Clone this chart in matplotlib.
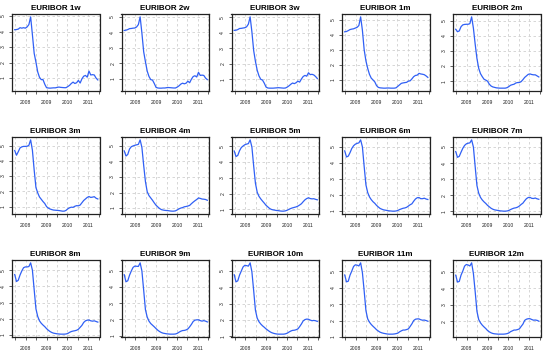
import numpy as np
import matplotlib
matplotlib.use("Agg")
import matplotlib.pyplot as plt

plt.rcParams['font.family'] = ['Liberation Sans', 'DejaVu Sans']

titles = ["EURIBOR 1w", "EURIBOR 2w", "EURIBOR 3w", "EURIBOR 1m", "EURIBOR 2m",
          "EURIBOR 3m", "EURIBOR 4m", "EURIBOR 5m", "EURIBOR 6m", "EURIBOR 7m",
          "EURIBOR 8m", "EURIBOR 9m", "EURIBOR 10m", "EURIBOR 11m", "EURIBOR 12m"]

year_ticks = [2008, 2009, 2010, 2011]
year_labels = ["2008", "2009", "2010", "2011"]
half_ticks = [2007.5, 2008.5, 2009.5, 2010.5, 2011.5]
y_ticks = [1, 2, 3, 4, 5]

t_start, t_end = 2007.48, 2011.45

e1w = [4.12, 4.13, 4.16, 4.25, 4.22, 4.25, 4.22, 4.30, 4.45, 4.95, 3.80, 2.60, 2.03, 1.40, 1.05, 0.90,
       0.90, 0.60, 0.38, 0.36, 0.35, 0.36, 0.37, 0.37, 0.40, 0.42, 0.40, 0.39, 0.38, 0.38, 0.45, 0.53,
       0.65, 0.74, 0.65, 0.70, 0.85, 0.68, 0.95, 1.12, 1.17, 1.06, 1.45, 1.20, 1.22, 1.20, 1.00, 0.88]
e2w = [4.12, 4.14, 4.18, 4.24, 4.25, 4.27, 4.28, 4.35, 4.50, 5.00, 3.95, 2.75, 2.10, 1.50, 1.15, 0.95,
       0.92, 0.70, 0.45, 0.41, 0.40, 0.40, 0.41, 0.41, 0.43, 0.44, 0.43, 0.42, 0.41, 0.41, 0.47, 0.55,
       0.66, 0.72, 0.68, 0.72, 0.85, 0.75, 0.98, 1.15, 1.20, 1.12, 1.42, 1.22, 1.24, 1.22, 1.05, 0.95]
e3w = [4.15, 4.16, 4.20, 4.27, 4.28, 4.30, 4.32, 4.38, 4.55, 5.02, 4.05, 2.85, 2.15, 1.58, 1.22, 1.00,
       0.95, 0.75, 0.50, 0.44, 0.43, 0.43, 0.43, 0.44, 0.45, 0.46, 0.45, 0.44, 0.43, 0.44, 0.50, 0.58,
       0.68, 0.76, 0.72, 0.78, 0.88, 0.82, 1.02, 1.18, 1.25, 1.20, 1.42, 1.30, 1.32, 1.28, 1.18, 1.05]
e1m = [4.20, 4.22, 4.28, 4.35, 4.38, 4.40, 4.45, 4.50, 4.62, 5.20, 4.30, 3.00, 2.25, 1.75, 1.35, 1.10,
       0.98, 0.85, 0.60, 0.48, 0.45, 0.44, 0.43, 0.43, 0.44, 0.44, 0.43, 0.43, 0.43, 0.45, 0.55, 0.65,
       0.75, 0.78, 0.80, 0.82, 0.90, 0.92, 1.05, 1.20, 1.28, 1.30, 1.42, 1.38, 1.36, 1.33, 1.25, 1.15]
e2m = [4.43, 4.27, 4.32, 4.60, 4.72, 4.75, 4.76, 4.76, 4.80, 5.25, 4.50, 3.45, 2.50, 1.85, 1.50, 1.30,
       1.13, 1.07, 1.00, 0.80, 0.68, 0.62, 0.59, 0.56, 0.55, 0.54, 0.54, 0.54, 0.54, 0.57, 0.64, 0.73,
       0.77, 0.80, 0.88, 0.91, 0.91, 0.97, 1.10, 1.25, 1.35, 1.45, 1.48, 1.44, 1.42, 1.42, 1.35, 1.28]
e3m = [4.68, 4.37, 4.60, 4.85, 4.92, 4.95, 4.95, 4.96, 5.02, 5.38, 4.70, 3.40, 2.25, 1.90, 1.63, 1.48,
       1.33, 1.20, 1.00, 0.90, 0.84, 0.80, 0.77, 0.76, 0.75, 0.74, 0.72, 0.70, 0.70, 0.75, 0.85, 0.92,
       0.96, 0.95, 1.02, 1.06, 1.05, 1.10, 1.25, 1.40, 1.50, 1.60, 1.66, 1.60, 1.62, 1.65, 1.55, 1.50]
e4m = [4.68, 4.35, 4.45, 4.80, 4.95, 5.00, 5.04, 5.07, 5.10, 5.39, 4.90, 3.75, 2.70, 2.05, 1.80, 1.65,
       1.50, 1.33, 1.18, 1.07, 0.97, 0.90, 0.87, 0.85, 0.84, 0.83, 0.81, 0.80, 0.80, 0.82, 0.88, 0.95,
       1.00, 1.03, 1.08, 1.10, 1.13, 1.17, 1.28, 1.38, 1.47, 1.55, 1.65, 1.62, 1.58, 1.57, 1.55, 1.50]
e5m = [4.70, 4.35, 4.42, 4.72, 4.92, 5.02, 5.10, 5.14, 5.17, 5.41, 4.95, 3.75, 2.65, 2.08, 1.82, 1.66,
       1.52, 1.39, 1.25, 1.15, 1.05, 0.99, 0.96, 0.94, 0.92, 0.91, 0.89, 0.88, 0.88, 0.90, 0.94, 1.00,
       1.05, 1.09, 1.12, 1.15, 1.20, 1.27, 1.35, 1.48, 1.60, 1.68, 1.73, 1.68, 1.66, 1.67, 1.63, 1.60]
e6m = [4.73, 4.35, 4.40, 4.62, 4.88, 5.05, 5.15, 5.20, 5.23, 5.42, 4.98, 3.75, 2.60, 2.12, 1.85, 1.68,
       1.55, 1.45, 1.32, 1.22, 1.13, 1.08, 1.04, 1.02, 1.00, 0.98, 0.97, 0.96, 0.96, 0.97, 1.00, 1.06,
       1.10, 1.14, 1.16, 1.20, 1.28, 1.36, 1.42, 1.58, 1.72, 1.80, 1.81, 1.74, 1.74, 1.77, 1.72, 1.69]
e7m = [4.72, 4.36, 4.42, 4.68, 4.92, 5.10, 5.20, 5.24, 5.26, 5.45, 5.00, 3.78, 2.60, 2.12, 1.86, 1.70,
       1.58, 1.48, 1.36, 1.27, 1.18, 1.12, 1.08, 1.06, 1.04, 1.02, 1.01, 1.00, 1.00, 1.01, 1.04, 1.10,
       1.15, 1.19, 1.21, 1.25, 1.32, 1.42, 1.50, 1.65, 1.78, 1.85, 1.86, 1.80, 1.79, 1.82, 1.77, 1.74]
e8m = [4.73, 4.30, 4.38, 4.70, 4.95, 5.15, 5.20, 5.20, 5.22, 5.45, 5.00, 3.80, 2.62, 2.15, 1.88, 1.73,
       1.62, 1.52, 1.40, 1.30, 1.22, 1.16, 1.12, 1.10, 1.08, 1.07, 1.06, 1.06, 1.06, 1.07, 1.10, 1.17,
       1.22, 1.25, 1.27, 1.30, 1.36, 1.48, 1.60, 1.78, 1.88, 1.92, 1.93, 1.88, 1.86, 1.88, 1.84, 1.80]
e9m = [4.75, 4.32, 4.38, 4.72, 4.98, 5.20, 5.28, 5.27, 5.26, 5.48, 4.98, 3.80, 2.60, 2.15, 1.90, 1.75,
       1.65, 1.55, 1.44, 1.34, 1.26, 1.20, 1.16, 1.14, 1.12, 1.11, 1.10, 1.10, 1.10, 1.11, 1.15, 1.22,
       1.28, 1.32, 1.33, 1.36, 1.42, 1.55, 1.70, 1.88, 1.96, 1.98, 1.98, 1.93, 1.90, 1.93, 1.90, 1.85]
e10m = [4.77, 4.34, 4.40, 4.75, 5.00, 5.25, 5.35, 5.33, 5.30, 5.50, 4.95, 3.80, 2.60, 2.12, 1.90, 1.76,
        1.65, 1.56, 1.46, 1.38, 1.30, 1.24, 1.20, 1.17, 1.15, 1.14, 1.14, 1.14, 1.14, 1.16, 1.20, 1.27,
        1.33, 1.37, 1.38, 1.41, 1.46, 1.60, 1.76, 1.95, 2.03, 2.06, 2.05, 2.00, 1.96, 1.98, 1.96, 1.92]
e11m = [4.78, 4.36, 4.40, 4.77, 5.02, 5.30, 5.40, 5.38, 5.33, 5.52, 4.92, 3.80, 2.60, 2.10, 1.90, 1.76,
        1.65, 1.55, 1.44, 1.36, 1.29, 1.25, 1.22, 1.20, 1.18, 1.17, 1.17, 1.17, 1.18, 1.20, 1.23, 1.31,
        1.37, 1.42, 1.42, 1.45, 1.49, 1.64, 1.80, 2.00, 2.08, 2.10, 2.10, 2.05, 2.02, 2.03, 2.00, 1.96]
e12m = [4.80, 4.38, 4.42, 4.80, 5.05, 5.35, 5.45, 5.42, 5.36, 5.55, 4.90, 3.80, 2.60, 2.10, 1.90, 1.76,
        1.65, 1.55, 1.43, 1.35, 1.29, 1.25, 1.23, 1.22, 1.21, 1.21, 1.21, 1.21, 1.22, 1.24, 1.28, 1.36,
        1.41, 1.46, 1.46, 1.49, 1.53, 1.68, 1.82, 2.05, 2.12, 2.15, 2.15, 2.10, 2.06, 2.07, 2.05, 2.00]

series = [e1w, e2w, e3w, e1m, e2m, e3m, e4m, e5m, e6m, e7m, e8m, e9m, e10m, e11m, e12m]

W, H = 545, 355
fig = plt.figure(figsize=(W / 100, H / 100), dpi=100)

col_left = [12, 121.5, 231.5, 342, 453]
col_w = 87.5
row_top = [14, 137, 260]
row_h = 77

line_color = '#3060f5'
grid_color = '#d0d0d0'

for i, (title, vals) in enumerate(zip(titles, series)):
    r, c = divmod(i, 5)
    left = col_left[c] / W
    bottom = 1 - (row_top[r] + row_h) / H
    ax = fig.add_axes([left, bottom, col_w / W, row_h / H])
    v = np.array(vals)
    t = np.linspace(t_start, t_end, len(v))
    ax.plot(t, v, color=line_color, lw=0.9)
    ax.set_xlim(2007.35, 2011.53)
    lo, hi = v.min(), v.max()
    pad = 0.04 * (hi - lo)
    ax.set_ylim(lo - pad, hi + pad)
    for x in half_ticks + year_ticks:
        ax.axvline(x, color=grid_color, lw=0.6, ls=(0, (3, 3)), zorder=0)
    for y in y_ticks:
        if lo - pad <= y <= hi + pad:
            ax.axhline(y, color=grid_color, lw=0.6, ls=(0, (3, 3)), zorder=0)
    ax.set_xticks(year_ticks + half_ticks)
    ax.set_xticklabels(year_labels + [""] * len(half_ticks))
    ax.set_yticks([y for y in y_ticks if lo - pad <= y <= hi + pad])
    ax.tick_params(axis='x', length=2.5, width=0.5, labelsize=3.6, pad=4, colors='#222222')
    ax.tick_params(axis='y', length=2.5, width=0.5, labelsize=3.6, pad=2, colors='#222222',
                   labelrotation=90)
    for lab in ax.get_yticklabels():
        lab.set_verticalalignment('center')
    for s in ax.spines.values():
        s.set_linewidth(0.9)
        s.set_color('#222222')
    ax.set_title(title, fontsize=5.8, fontweight='bold', pad=3)

fig.savefig("out.png", dpi=100)
